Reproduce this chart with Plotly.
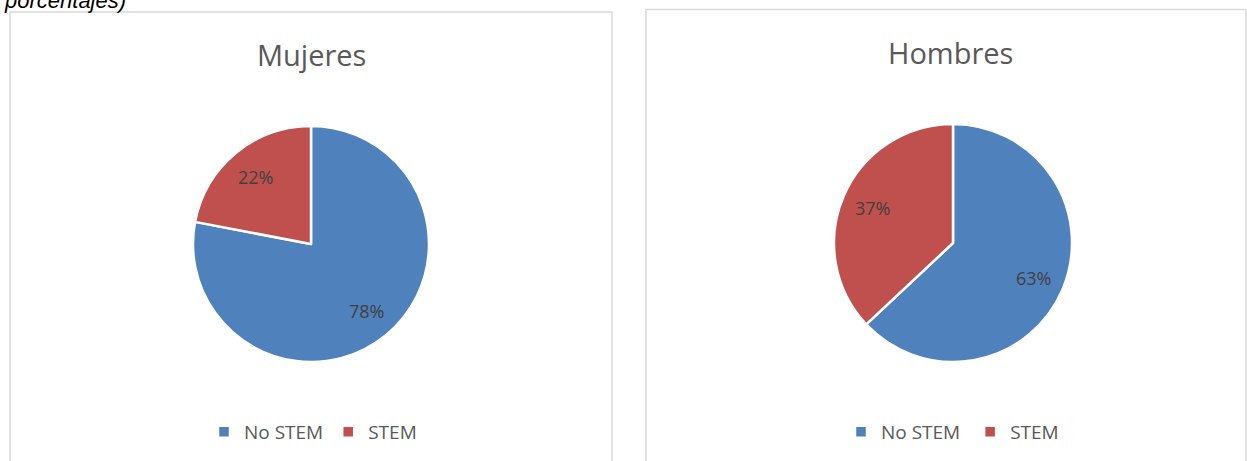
import math
import plotly.graph_objects as go

W, H = 1247, 461

categories = ["No STEM", "STEM"]
mujeres = [78, 22]
hombres = [63, 37]
titles = ["Mujeres", "Hombres"]
colors = ["#4F81BD", "#C0504D"]

def px_x(v):
    return v / W

def px_y(v):
    return 1 - v / H

# pie geometry in pixels: (center x, center y, radius)
pies = [
    dict(values=mujeres, cx=311, cy=244, r=118, legend="legend", labels=categories),
    dict(values=hombres, cx=953, cy=243, r=119, legend="legend2",
         labels=[c + " " for c in categories]),
]

fig = go.Figure()
annotations = []
for p in pies:
    fig.add_trace(go.Pie(
        labels=p["labels"], values=p["values"], sort=False, direction="clockwise", rotation=0,
        marker=dict(colors=colors, line=dict(color="white", width=2.5)),
        textinfo="none",
        domain=dict(x=[px_x(p["cx"] - p["r"]), px_x(p["cx"] + p["r"])],
                    y=[px_y(p["cy"] + p["r"]), px_y(p["cy"] - p["r"])]),
        legend=p["legend"], hoverinfo="label+percent",
    ))
    total = sum(p["values"])
    cum = 0
    for v in p["values"]:
        mid = (cum + v / 2) / total * 2 * math.pi
        cum += v
        lx = p["cx"] + 0.74 * p["r"] * math.sin(mid)
        ly = p["cy"] - 0.74 * p["r"] * math.cos(mid)
        annotations.append(dict(
            text=f"{v}%", x=px_x(lx), y=px_y(ly), xref="paper", yref="paper",
            showarrow=False, xanchor="center", yanchor="middle",
            font=dict(size=18, color="#404040", family="Open Sans")))

legend_common = dict(orientation="h", xanchor="center", yanchor="middle",
                     font=dict(size=19, color="#595959", family="Open Sans"),
                     bgcolor="rgba(0,0,0,0)", itemwidth=30, traceorder="normal")

annotations += [
    dict(text=titles[0], x=px_x(311), y=px_y(55), xref="paper", yref="paper",
         showarrow=False, xanchor="center", yanchor="middle",
         font=dict(size=29, color="#595959", family="Open Sans")),
    dict(text=titles[1], x=px_x(950), y=px_y(52), xref="paper", yref="paper",
         showarrow=False, xanchor="center", yanchor="middle",
         font=dict(size=29, color="#595959", family="Open Sans")),
    dict(text="<i>porcentajes)</i>", x=px_x(128), y=px_y(0), xref="paper", yref="paper",
         showarrow=False, xanchor="right", yanchor="middle",
         font=dict(size=22, color="black", family="Liberation Sans")),
]

fig.update_layout(
    width=W, height=H,
    margin=dict(l=0, r=0, t=0, b=0),
    paper_bgcolor="white", plot_bgcolor="white",
    showlegend=True,
    legend=dict(x=px_x(313), y=px_y(432), **legend_common),
    legend2=dict(x=px_x(955), y=px_y(432), **legend_common),
    shapes=[
        dict(type="rect", xref="paper", yref="paper", x0=px_x(10), x1=px_x(612),
             y0=px_y(475), y1=px_y(12), line=dict(color="#d9d9d9", width=1.5)),
        dict(type="rect", xref="paper", yref="paper", x0=px_x(646), x1=px_x(1246),
             y0=px_y(475), y1=px_y(9.5), line=dict(color="#d9d9d9", width=1.5)),
    ],
    annotations=annotations,
)

fig.write_html("out.html")
